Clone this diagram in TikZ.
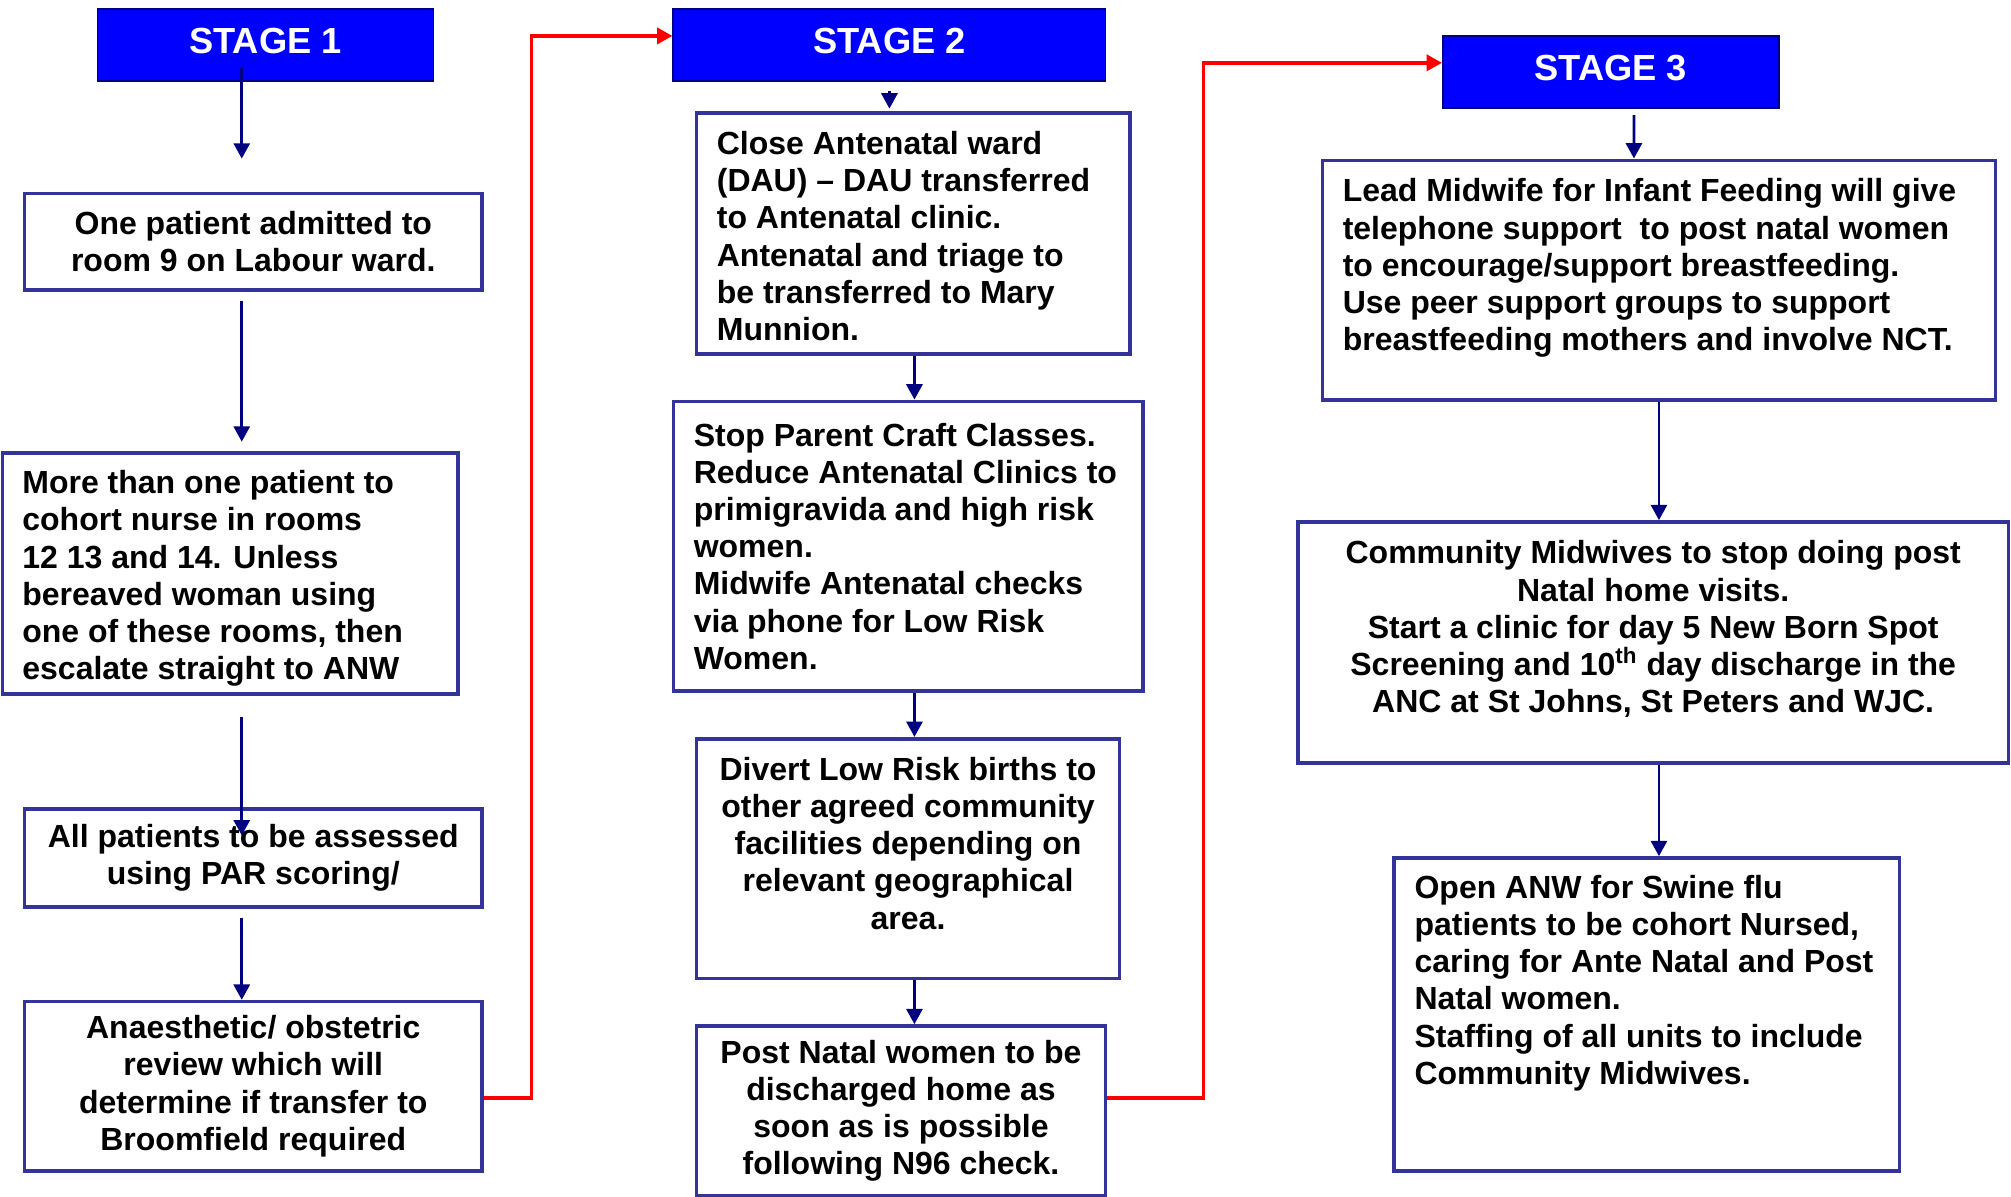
\documentclass[tikz,border=0pt]{standalone}
\usepackage{fontspec}
\setmainfont{Liberation Sans}
\usetikzlibrary{arrows.meta}
\tikzset{>={Triangle[length=0.24cm,width=0.25cm]}}
\definecolor{stageblue}{RGB}{0,0,255}
\definecolor{framenavy}{RGB}{51,51,153}
\definecolor{linknavy}{RGB}{0,0,128}
\tikzstyle{stage}=[draw=linknavy, line width=0.8pt, fill=stageblue, text=white, text depth=0.12cm, font=\fontsize{16.1}{19}\selectfont\bfseries]
\tikzstyle{box}=[draw=framenavy, line width=1.6pt, align=center, font=\fontsize{14.2}{16.5}\selectfont\bfseries]
\tikzstyle{txt}=[inner sep=0pt, font=\fontsize{14.2}{16.5}\selectfont\bfseries]
\tikzstyle{flow}=[->, linknavy, line width=1.3pt]
\tikzstyle{jump}=[->, red, line width=1.7pt]

\begin{document}
\begin{tikzpicture}
    \useasboundingbox (0,0) rectangle (31.36,-18.66);
    % Draw the stage headers
    \node[stage, minimum width=5.24cm, minimum height=1.12cm] (s1) at (4.14,-0.70) {STAGE 1};
    \node[stage, minimum width=6.74cm, minimum height=1.12cm] (s2) at (13.87,-0.70) {STAGE 2};
    \node[stage, minimum width=5.24cm, minimum height=1.12cm] (s3) at (25.12,-1.12) {STAGE 3};

    % Stage 1 column
    \node[box, minimum width=7.14cm, minimum height=1.50cm] (b1) at (3.95,-3.77) {One patient admitted to\\room 9 on Labour ward.};
    \node[box, minimum width=7.10cm, minimum height=3.76cm] (b2) at (3.59,-8.94) {};
    \node[txt, anchor=west, align=left] (b2t) at ([xshift=0.33cm,yshift=-0.08cm]b2.west) {More than one patient to\\cohort nurse in rooms\\12 13 and 14. Unless\\bereaved woman using\\one of these rooms, then\\escalate straight to ANW};
    \node[box, minimum width=7.14cm, minimum height=1.52cm] (b3) at (3.95,-13.38) {All patients to be assessed\\using PAR scoring/};
    \node[box, minimum width=7.14cm, minimum height=2.64cm] (b4) at (3.95,-16.94) {Anaesthetic/ obstetric\\review which will\\determine if transfer to\\Broomfield required};

    % Stage 2 column
    \node[box, minimum width=6.76cm, minimum height=3.76cm] (b5) at (14.24,-3.64) {};
    \node[txt, anchor=west, align=left] (b5t) at ([xshift=0.34cm,yshift=-0.04cm]b5.west) {Close Antenatal ward\\(DAU) – DAU transferred\\to Antenatal clinic.\\Antenatal and triage to\\be transferred to Mary\\Munnion.};
    \node[box, minimum width=7.32cm, minimum height=4.52cm] (b6) at (14.16,-8.52) {};
    \node[txt, anchor=west, align=left] (b6t) at ([xshift=0.34cm]b6.west) {Stop Parent Craft Classes.\\Reduce Antenatal Clinics to\\primigravida and high risk\\women.\\Midwife Antenatal checks\\via phone for Low Risk\\Women.};
    \node[box, minimum width=6.60cm, minimum height=3.74cm] (b7) at (14.16,-13.39) {};
    \node[txt, align=center] (b7t) at ([yshift=0.24cm]b7.center) {Divert Low Risk births to\\other agreed community\\facilities depending on\\relevant geographical\\area.};
    \node[box, minimum width=6.38cm, minimum height=2.64cm] (b8) at (14.05,-17.32) {Post Natal women to be\\discharged home as\\soon as is possible\\following N96 check.};

    % Stage 3 column
    \node[box, minimum width=10.50cm, minimum height=3.74cm] (b9) at (25.87,-4.37) {};
    \node[txt, anchor=west, align=left] (b9t) at ([xshift=0.34cm,yshift=0.19cm]b9.west) {Lead Midwife for Infant Feeding will give\\telephone support\ \ to post natal women\\to encourage/support breastfeeding.\\Use peer support groups to support\\breastfeeding mothers and involve NCT.};
    \node[box, minimum width=11.08cm, minimum height=3.76cm] (b10) at (25.78,-10.02) {};
    \node[txt, align=center] (b10t) at ([yshift=0.21cm]b10.center) {Community Midwives to stop doing post\\Natal home visits.\\Start a clinic for day 5 New Born Spot\\Screening and 10\textsuperscript{th} day discharge in the\\ANC at St Johns, St Peters and WJC.};
    \node[box, minimum width=7.88cm, minimum height=4.88cm] (b11) at (25.68,-15.82) {};
    \node[txt, anchor=west, align=left] (b11t) at ([xshift=0.34cm,yshift=0.49cm]b11.west) {Open ANW for Swine flu\\patients to be cohort Nursed,\\caring for Ante Natal and Post\\Natal women.\\Staffing of all units to include\\Community Midwives.};

    % Arrows down each column
    \draw[flow] ([xshift=-0.37cm,yshift=0.22cm]s1.south) -- ++(0,-1.42);
    \draw[flow] ([xshift=-0.18cm,yshift=-0.14cm]b1.south) -- ++(0,-2.20);
    \draw[flow] ([xshift=0.18cm,yshift=-0.34cm]b2.south) -- ++(0,-1.84);
    \draw[flow] ([xshift=-0.18cm,yshift=-0.14cm]b3.south) -- ([xshift=-0.18cm]b4.north);
    \draw[flow] ([yshift=-0.14cm]s2.south) -- ++(0,-0.28);
    \draw[flow] ([xshift=0.02cm]b5.south) -- ([xshift=0.1cm]b6.north);
    \draw[flow] ([xshift=0.1cm]b6.south) -- ([xshift=0.1cm]b7.north);
    \draw[flow] ([xshift=0.1cm]b7.south) -- ([xshift=0.21cm]b8.north);
    \draw[flow] ([xshift=0.36cm,yshift=-0.10cm]s3.south) -- ([xshift=-0.39cm]b9.north);
    \draw[flow] (b9.south) -- ([xshift=0.09cm]b10.north);
    \draw[flow] ([xshift=0.09cm]b10.south) -- ([xshift=0.19cm]b11.north);

    % Red links to the next stage
    \draw[jump] ([yshift=-0.18cm]b4.east) -- ++(0.74,0) |- ([yshift=0.14cm]s2.west);
    \draw[jump] ([yshift=0.20cm]b8.east) -- ++(1.50,0) |- ([yshift=0.14cm]s3.west);
\end{tikzpicture}
\end{document}
